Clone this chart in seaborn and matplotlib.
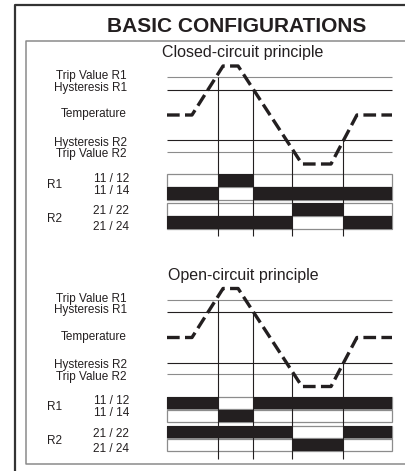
import matplotlib
matplotlib.use('Agg')
import matplotlib.pyplot as plt
import seaborn as sns
from matplotlib.lines import Line2D

# temperature trace (time in % of trace width, level above the resting temperature)
curve_t = [0, 11.1, 24.9, 31.6, 60.0, 72.9, 84.4, 100]
curve_y = [0, 0, 49, 49, -49, -49, 0, 0]

# threshold lines
level_names = ['Trip Value R1', 'Hysteresis R1', 'Hysteresis R2', 'Trip Value R2']
level_vals = [38, 25.5, -25, -36.5]
level_cols = ['#8c8c8c', '#231f20', '#231f20', '#8c8c8c']
label_y = [35.8, 24.2, -30.8, -42.4]   # baselines of the left-hand labels

# switching moments and the threshold that triggers each
switch_t = [22.7, 38.2, 55.6, 78.2]
switch_lvl = [38, 25.5, -36.5, -25]

# relay contact states for the 5 time segments (1 = closed / black)
contacts = ['11 / 12', '11 / 14', '21 / 22', '21 / 24']
closed_states = [[0, 1, 0, 0, 0],
                 [1, 0, 1, 1, 1],
                 [0, 0, 0, 1, 0],
                 [1, 1, 1, 0, 1]]
open_states = [[1, 0, 1, 1, 1],
               [0, 1, 0, 0, 0],
               [1, 1, 1, 0, 1],
               [0, 0, 0, 1, 0]]
row_top = [-59, -72, -88, -101]
row_h = 12.8
contact_label_y = [-66.5, -78.8, -99.3, -114.8]
relay_names = ['R1', 'R2']
relay_label_y = [-73, -107]

BLACK = '#231f20'
GRAY = '#8c8c8c'
W, H = 406, 471

sns.set_style('white')
plt.rcParams['font.family'] = ['Liberation Sans', 'DejaVu Sans']

fig = plt.figure(figsize=(W / 100, H / 100), dpi=100)


def fx(x):
    return x / W


def fy(y):
    return 1 - y / H


# frames
fig.add_artist(Line2D([fx(15.5), fx(15.5), fx(410)], [fy(480), fy(4.5), fy(4.5)],
                      color='#333333', lw=1.6, transform=fig.transFigure))
fig.add_artist(Line2D([fx(410), fx(26), fx(26), fx(410)], [fy(41), fy(41), fy(464), fy(464)],
                      color='#8a8a8a', lw=1.1, transform=fig.transFigure))

fig.text(fx(236.5), fy(32), 'BASIC CONFIGURATIONS', ha='center', va='baseline',
         fontsize=15, fontweight='bold', color=BLACK)


def panel(top_px, title, states):
    # axes: x 0..100 spans 167..392 px, 1 y unit = 1 px
    ax = fig.add_axes([fx(167), fy(top_px + 185), 225 / W, 185 / H])
    ax.set_xlim(0, 100)
    ax.set_ylim(-125, 60)
    ax.axis('off')

    ax.text(33.8, 57.5, title, ha='center', va='baseline', fontsize=11.5, color=BLACK)

    ax.hlines(level_vals, 0, 100, colors=level_cols, lw=0.8, clip_on=False)
    for name, yy in zip(level_names, label_y):
        ax.text(-17.8, yy, name, ha='right', va='baseline', fontsize=8.5, color=BLACK)
    ax.text(-17.8, -2.4, 'Temperature', ha='right', va='baseline', fontsize=8.5, color=BLACK)

    sns.lineplot(x=curve_t, y=curve_y, ax=ax, color=BLACK, lw=2.4, sort=False,
                 linestyle=(0, (3.8, 1.6)), dash_capstyle='butt', clip_on=False)

    edges = [0] + switch_t + [100]
    for top, st, lab, ly in zip(row_top, states, contacts, contact_label_y):
        c = top - row_h / 2
        ax.barh(c, 100, left=0, height=row_h, color='white', edgecolor=GRAY, lw=0.9,
                clip_on=False, zorder=2)
        for i, s in enumerate(st):
            if s:
                ax.barh(c, edges[i + 1] - edges[i], left=edges[i], height=row_h,
                        color=BLACK, lw=0, clip_on=False, zorder=3)
        ax.text(-16.9, ly, lab, ha='right', va='baseline', fontsize=8.5, color=BLACK)
    for name, ly in zip(relay_names, relay_label_y):
        ax.text(-53.3, ly, name, ha='left', va='baseline', fontsize=8.5, color=BLACK)

    ax.vlines(switch_t, -121, switch_lvl, colors=BLACK, lw=0.8, zorder=4, clip_on=False)


panel(55, 'Closed-circuit principle', closed_states)
panel(277.5, 'Open-circuit principle', open_states)

fig.savefig('out.png', dpi=100)
